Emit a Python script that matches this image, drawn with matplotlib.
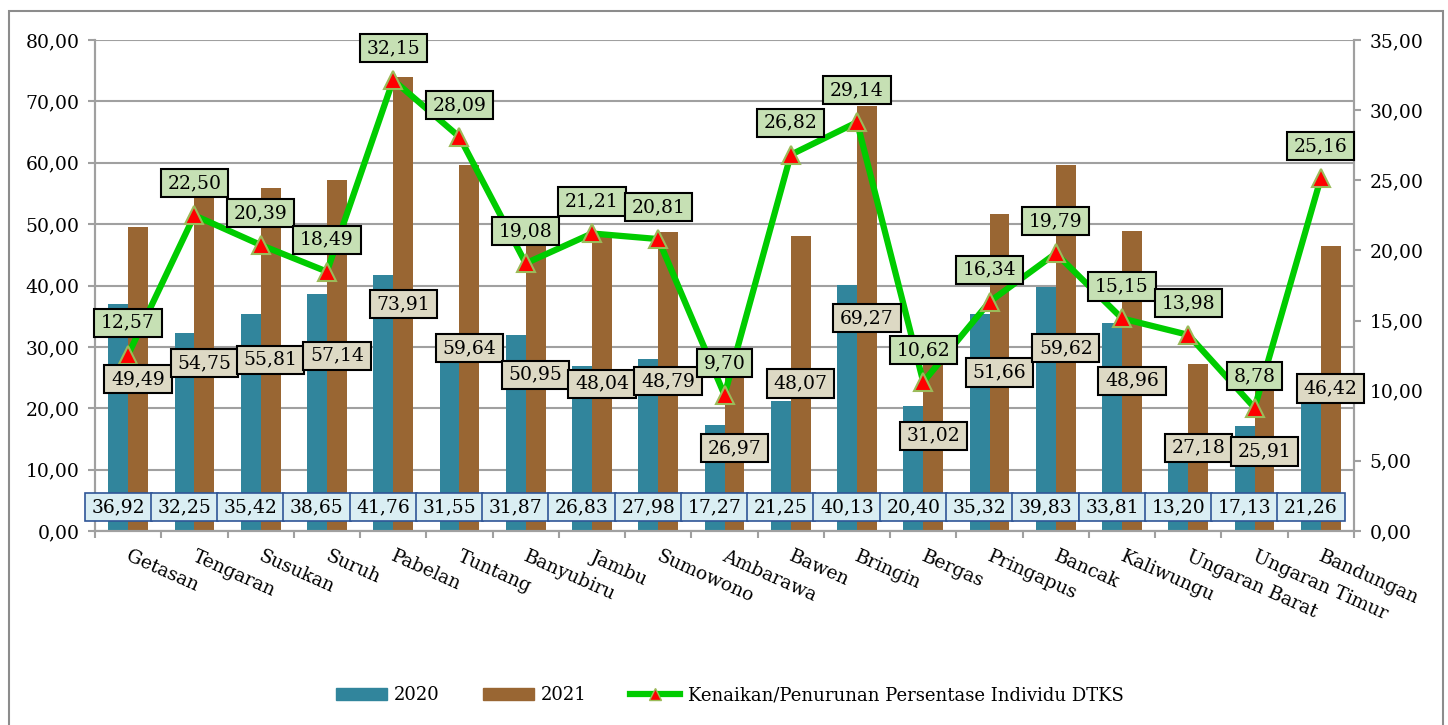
import matplotlib
matplotlib.use("Agg")
import matplotlib.pyplot as plt
from matplotlib.patches import Rectangle
from matplotlib.lines import Line2D
from matplotlib.path import Path
from matplotlib.ticker import FuncFormatter, MultipleLocator
import numpy as np

# data
kecamatan = ["Getasan", "Tengaran", "Susukan", "Suruh", "Pabelan", "Tuntang",
             "Banyubiru", "Jambu", "Sumowono", "Ambarawa", "Bawen", "Bringin",
             "Bergas", "Pringapus", "Bancak", "Kaliwungu", "Ungaran Barat",
             "Ungaran Timur", "Bandungan"]
v2020 = [36.92, 32.25, 35.42, 38.65, 41.76, 31.55, 31.87, 26.83, 27.98, 17.27,
         21.25, 40.13, 20.40, 35.32, 39.83, 33.81, 13.20, 17.13, 21.26]
v2021 = [49.49, 54.75, 55.81, 57.14, 73.91, 59.64, 50.95, 48.04, 48.79, 26.97,
         48.07, 69.27, 31.02, 51.66, 59.62, 48.96, 27.18, 25.91, 46.42]
kenaikan = [12.57, 22.50, 20.39, 18.49, 32.15, 28.09, 19.08, 21.21, 20.81, 9.70,
            26.82, 29.14, 10.62, 16.34, 19.79, 15.15, 13.98, 8.78, 25.16]
series_names = ["2020", "2021", "Kenaikan/Penurunan Persentase Individu DTKS"]

TEAL = "#31859C"
BROWN = "#996633"
GREEN = "#00CC00"
GRID = "#A0A0A0"
FS = 13.5

plt.rcParams["font.family"] = ["DejaVu Serif"]
plt.rcParams["font.size"] = FS


def fmt(v):
    return f"{v:.2f}".replace(".", ",")


def wide_box(x0, y0, width, height, mutation_size):
    # rectangle with more padding left/right than top/bottom
    px = 0.36 * mutation_size
    py = 0.27 * mutation_size
    x0, y0 = x0 - px, y0 - py
    x1, y1 = x0 + width + 2 * px, y0 + height + 2 * py
    return Path([(x0, y0), (x1, y0), (x1, y1), (x0, y1), (x0, y0)], closed=True)


fig = plt.figure(figsize=(14.48, 7.25), dpi=100)
ax = fig.add_axes([95 / 1448, 1 - 531 / 725, (1354 - 95) / 1448, (531 - 40) / 725])
ax2 = ax.twinx()

x = np.arange(len(kecamatan))
w = 0.30
ax.bar(x - w / 2, v2020, w, color=TEAL, zorder=2)
ax.bar(x + w / 2, v2021, w, color=BROWN, zorder=2)

ax.set_xlim(-0.5, len(kecamatan) - 0.5)
ax.set_ylim(0, 80)
ax2.set_ylim(0, 35)
ax.yaxis.set_major_locator(MultipleLocator(10))
ax2.yaxis.set_major_locator(MultipleLocator(5))
ax.yaxis.set_major_formatter(FuncFormatter(lambda v, p: fmt(v)))
ax2.yaxis.set_major_formatter(FuncFormatter(lambda v, p: fmt(v)))
ax.grid(axis="y", color=GRID, lw=1.5, zorder=0)
ax.set_axisbelow(True)

ax.set_xticks(np.arange(-0.5, len(kecamatan), 1.0))
ax.set_xticklabels([])
for a in (ax, ax2):
    for s in a.spines.values():
        s.set_color(GRID)
        s.set_linewidth(1.5)
    a.spines["top"].set_visible(False)
    a.tick_params(colors=GRID, labelcolor="black", length=5, width=1.5,
                  labelsize=FS, pad=6)

for i, name in enumerate(kecamatan):
    ax.annotate(name, xy=(i, 0), xycoords=("data", "axes fraction"),
                xytext=(2, -12), textcoords="offset points", rotation=-24,
                rotation_mode="anchor", ha="left", va="top", fontsize=FS)

ax2.plot(x, kenaikan, color=GREEN, lw=4.5, marker="^", markersize=13,
         markerfacecolor="red", markeredgecolor="#9BBB59", markeredgewidth=1.5,
         zorder=3, clip_on=False)

# data labels
for i in range(len(kecamatan)):
    ax2.annotate(fmt(v2020[i]), xy=(x[i] - w / 2, 0), xycoords=ax.transData,
                 xytext=(0, 17), textcoords="offset points", ha="center",
                 va="center", fontsize=FS, zorder=6, annotation_clip=False,
                 bbox=dict(boxstyle=wide_box, fc="#DAEEF3", ec="#2F5597", lw=1.2))
    ax2.annotate(fmt(v2021[i]), xy=(x[i] + w / 2, v2021[i] / 2), xycoords=ax.transData,
                 ha="center", va="center", fontsize=FS, zorder=6,
                 annotation_clip=False,
                 bbox=dict(boxstyle=wide_box, fc="#DDD9C4", ec="black", lw=1.5))
    ax2.annotate(fmt(kenaikan[i]), xy=(x[i], kenaikan[i]), xycoords="data",
                 xytext=(0, 23), textcoords="offset points", ha="center",
                 va="center", fontsize=FS, zorder=6, annotation_clip=False,
                 bbox=dict(boxstyle=wide_box, fc="#C6E0B4", ec="black", lw=1.5))

handles = [Rectangle((0, 0), 1, 1, color=TEAL),
           Rectangle((0, 0), 1, 1, color=BROWN),
           Line2D([], [], color=GREEN, lw=4.5, marker="^", markersize=9,
                  markerfacecolor="red", markeredgecolor="#9BBB59")]
fig.legend(handles, series_names, loc="center", bbox_to_anchor=(0.504, 0.041),
           ncol=3, frameon=False, fontsize=13, handlelength=2.8, handleheight=0.6,
           handletextpad=0.4, columnspacing=2.4)

fig.patches.append(Rectangle((9 / 1448, -0.05), (1443 - 9) / 1448, 1.05 - 11 / 725,
                             transform=fig.transFigure, fill=False,
                             edgecolor="#8C8C8C", lw=1.5))

fig.savefig("out.png", dpi=100)
